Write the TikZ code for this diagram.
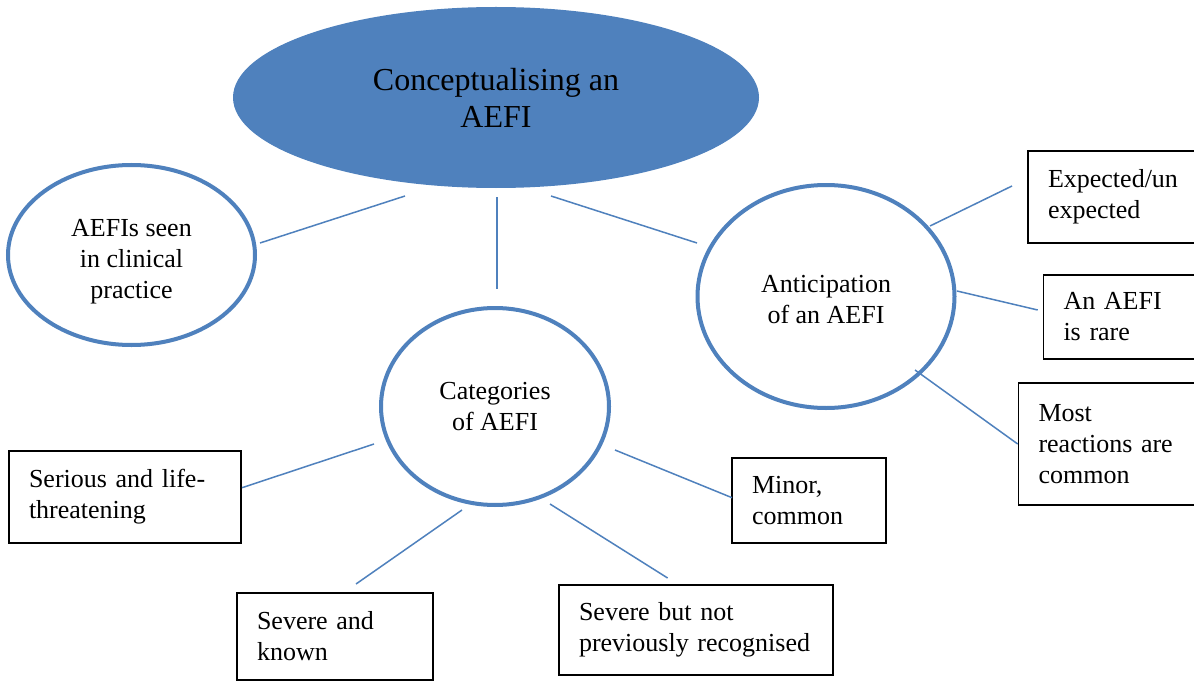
\documentclass[tikz,border=0pt]{standalone}
\usepackage{fontspec}
\setmainfont{Liberation Serif}
\usetikzlibrary{shapes.geometric,calc}
\definecolor{aefiblue}{HTML}{4F81BD}
\begin{document}
\begin{tikzpicture}[x=1pt,y=-1pt,
  bodyfont/.style={font=\fontsize{26}{31}\selectfont},
  bubble/.style={ellipse,draw=aefiblue,line width=4pt,fill=white,align=center,inner sep=0pt,bodyfont},
  box/.style={rectangle,draw=black,line width=1.8pt,align=left,inner xsep=20pt,inner ysep=0pt,bodyfont},
  conn/.style={draw=aefiblue,line width=1.5pt}]
\useasboundingbox (0,0) rectangle (1194,682);
\fill[white] (0,0) rectangle (1194,682);

\node[ellipse,fill=aefiblue,draw=none,minimum width=526pt,minimum height=181pt,align=center,inner sep=0pt,
  font=\fontsize{32}{37}\selectfont] (main) at (496,97.5) {Conceptualising an\\AEFI};

\node[bubble,minimum width=247pt,minimum height=180pt] (left) at (131.5,255) {\rule{0pt}{30pt}AEFIs seen\\in clinical\\practice};
\node[bubble,minimum width=228pt,minimum height=197pt] (cat) at (495,406.5) {Categories\\of AEFI};
\node[bubble,minimum width=257pt,minimum height=223pt] (antic) at (826,296.5) {\rule{0pt}{24pt}Anticipation\\of an AEFI};

\node[box,text width=141pt,minimum height=92pt] (expected) at (1118.5,197) {Expected/un\\expected};
\node[box,text width=126pt,minimum height=84pt] (rare) at (1126.5,317) {An AEFI\\is rare};
\node[box,text width=151pt,minimum height=122pt] (most) at (1114,444) {Most\\reactions are\\common};
\node[box,text width=114pt,minimum height=85pt] (minor) at (809,500.5) {Minor,\\common};
\node[box,text width=192pt,minimum height=92pt] (serious) at (125,497) {Serious and life-\\threatening};
\node[box,text width=156pt,minimum height=87pt] (sknown) at (335,636.5) {Severe and\\known};
\node[box,text width=234pt,minimum height=90pt] (sbut) at (696,630) {Severe but not\\\mbox{previously recognised}};

\draw[conn] ($(main.center)+(-91,98.5)$) -- ($(left.center)+(128.5,-12)$);
\draw[conn] ($(main.center)+(1,99.5)$) -- ($(cat.center)+(2,-117.5)$);
\draw[conn] ($(main.center)+(55,98.5)$) -- ($(antic.center)+(-129,-53.5)$);

\draw[conn] ($(antic.center)+(104,-70.5)$) -- ($(expected.center)+(-106.5,-11)$);
\draw[conn] ($(antic.center)+(131,-5.5)$) -- ($(rare.center)+(-88.8,-7)$);
\draw[conn] ($(antic.center)+(89,73.5)$) -- ($(most.center)+(-96.3,0)$);

\draw[conn] ($(cat.center)+(-121,37.5)$) -- ($(serious.center)+(117,-9.3)$);
\draw[conn] ($(cat.center)+(-33,103.5)$) -- ($(sknown.center)+(21,-52.5)$);
\draw[conn] ($(cat.center)+(55,97.5)$) -- ($(sbut.center)+(-28.4,-52)$);
\draw[conn] ($(cat.center)+(120,43.5)$) -- ($(minor.center)+(-77,-2.8)$);
\end{tikzpicture}
\end{document}
